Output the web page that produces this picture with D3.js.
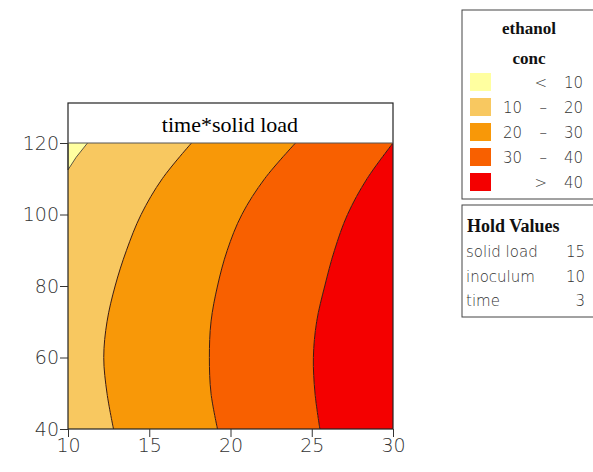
<!DOCTYPE html>
<html><head><meta charset="utf-8">
<script src="https://cdn.jsdelivr.net/npm/d3@7"></script>
<style>body{margin:0;background:#fff}</style>
</head><body>
<svg id="c" width="593" height="472"></svg>
<script>
// contour boundaries (solid load x) read at each time level (y)
var yLevels = [40, 50, 60, 70, 80, 90, 100, 110, 120];
var c20 = [12.8, 12.4, 12.2, 12.4, 12.9, 13.6, 14.5, 15.8, 17.6];
var c30 = [19.2, 18.8, 18.7, 18.8, 19.2, 19.8, 20.7, 22.1, 24.0];
var c40 = [25.5, 25.2, 25.1, 25.3, 25.8, 26.4, 27.2, 28.4, 30.0];
var c10 = [[10, 112.5], [10.5, 116], [11.2, 120]];
var xTicks = [10, 15, 20, 25, 30];
var yTicks = [40, 60, 80, 100, 120];
var colors = ["#ffffa0", "#f8c860", "#f89808", "#f86000", "#f40000"];
var legendLabels = [["", "<", "10"], ["10", "\u2013", "20"], ["20", "\u2013", "30"], ["30", "\u2013", "40"], ["", ">", "40"]];
var holdNames = ["solid load", "inoculum", "time"];
var holdVals = [15, 10, 3];

var svg = d3.select("#c");
var x = d3.scaleLinear().domain([10, 30]).range([68, 393]);
var y = d3.scaleLinear().domain([40, 120]).range([429, 143]);

var bounds = [yLevels.map(function(){return 10;}), c20, c30, c40, yLevels.map(function(){return 30;})];
var area = d3.area().curve(d3.curveCatmullRom)
  .y(function(d, i){return y(yLevels[i]);});
for (var k = 0; k < 4; k++) {
  (function(lo, hi, col){
    svg.append("path").datum(yLevels)
      .attr("fill", col)
      .attr("d", area.x0(function(d, i){return x(lo[i]);}).x1(function(d, i){return x(hi[i]);}));
  })(bounds[k], bounds[k + 1], colors[k + 1]);
}
svg.append("defs").append("clipPath").attr("id", "pc").append("rect")
  .attr("x", 68).attr("y", 143).attr("width", 325).attr("height", 286);
svg.append("path").datum([[10, 120]].concat(c10))
  .attr("fill", colors[0]).attr("stroke", "#333").attr("stroke-width", 0.8)
  .attr("d", d3.line().x(function(d){return x(d[0]);}).y(function(d){return y(d[1]);}));
var line = d3.line().curve(d3.curveCatmullRom)
  .y(function(d, i){return y(yLevels[i]);});
[c20, c30, c40].forEach(function(c){
  svg.append("path").datum(c).attr("clip-path", "url(#pc)")
    .attr("fill", "none").attr("stroke", "#3a1a10").attr("stroke-width", 1)
    .attr("d", line.x(function(d){return x(d);}));
});

svg.append("rect").attr("x", 68).attr("y", 103).attr("width", 325).attr("height", 326)
  .attr("fill", "none").attr("stroke", "#222").attr("stroke-width", 1.2);
svg.append("line").attr("x1", 68).attr("x2", 393).attr("y1", 143).attr("y2", 143).attr("stroke", "#555");
svg.append("text").attr("x", 230).attr("y", 132).attr("text-anchor", "middle")
  .attr("font-family", "Liberation Serif").attr("font-size", 22).text("time*solid load");

var ax = svg.append("g").attr("transform", "translate(0,429)")
  .call(d3.axisBottom(x).tickValues(xTicks).tickSize(8).tickPadding(2));
var ay = svg.append("g").attr("transform", "translate(68,0)")
  .call(d3.axisLeft(y).tickValues(yTicks).tickSize(8).tickPadding(1));
[ax, ay].forEach(function(a){
  a.select(".domain").remove();
  a.selectAll("line").attr("stroke", "#333");
  a.selectAll("text").attr("font-family", "DejaVu Sans").attr("font-size", 19)
    .attr("font-weight", 200).attr("fill", "#333");
});

// legend
var lg = svg.append("g").attr("font-family", "DejaVu Sans").attr("font-size", 15).attr("font-weight", 300).attr("fill", "#333");
lg.append("rect").attr("x", 462).attr("y", 10).attr("width", 140).attr("height", 189)
  .attr("fill", "none").attr("stroke", "#444");
lg.append("text").attr("x", 529).attr("y", 34).attr("text-anchor", "middle").attr("fill", "#111")
  .attr("font-family", "Liberation Serif").attr("font-weight", "bold").attr("font-size", 17).text("ethanol");
lg.append("text").attr("x", 529).attr("y", 64).attr("text-anchor", "middle").attr("fill", "#111")
  .attr("font-family", "Liberation Serif").attr("font-weight", "bold").attr("font-size", 17).text("conc");
var rows = lg.selectAll("g.r").data(legendLabels).enter().append("g")
  .attr("transform", function(d, i){return "translate(0," + (82 + i * 25) + ")";});
rows.append("rect").attr("x", 470).attr("y", -9).attr("width", 21).attr("height", 18)
  .attr("fill", function(d, i){return colors[i];});
rows.append("text").attr("x", 503).attr("y", 6).text(function(d){return d[0];});
rows.append("text").attr("x", 547).attr("y", 6).attr("text-anchor", "end").text(function(d){return d[1];});
rows.append("text").attr("x", 583).attr("y", 6).attr("text-anchor", "end").text(function(d){return d[2];});

var hg = svg.append("g").attr("font-family", "DejaVu Sans").attr("font-size", 15).attr("font-weight", 300).attr("fill", "#333");
hg.append("rect").attr("x", 462).attr("y", 205).attr("width", 140).attr("height", 112)
  .attr("fill", "none").attr("stroke", "#444");
hg.append("text").attr("x", 467).attr("y", 232).attr("font-family", "Liberation Serif")
  .attr("font-weight", "bold").attr("font-size", 18).attr("fill", "#111").text("Hold Values");
holdNames.forEach(function(n, i){
  hg.append("text").attr("x", 466).attr("y", 257 + i * 24.5).text(n);
  hg.append("text").attr("x", 585).attr("y", 257 + i * 24.5).attr("text-anchor", "end").text(holdVals[i]);
});
</script>
</body></html>
